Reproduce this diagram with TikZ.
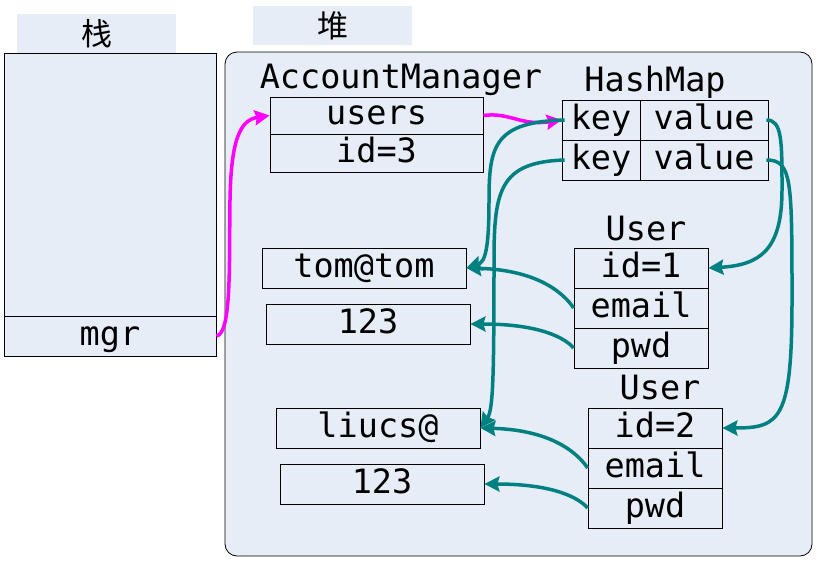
\documentclass[tikz,border=0pt]{standalone}
\usepackage{fontspec}
\setmonofont{DejaVu Sans Mono}
\newfontfamily\cjk{Noto Sans CJK SC}
\usetikzlibrary{arrows.meta}
\definecolor{bgc}{RGB}{230,237,247}
\definecolor{tealc}{RGB}{0,128,128}
\definecolor{magc}{RGB}{255,0,255}
\tikzset{
  cell/.style={draw, line width=0.8pt, fill=bgc, inner sep=0pt, minimum height=40pt, text height=24pt, text depth=6pt, font=\ttfamily\fontsize{33.5}{33.5}\selectfont},
  ttl/.style={inner sep=0pt, text height=24pt, text depth=6pt, font=\ttfamily\fontsize{33.5}{33.5}\selectfont},
  cjklbl/.style={fill=bgc, inner sep=0pt, minimum width=159pt, minimum height=39pt, font=\cjk\fontsize{31}{31}\selectfont},
  tarr/.style={draw=tealc, line width=3.5pt, -{Stealth[length=15pt,width=15pt,inset=2pt]}},
  marr/.style={draw=magc, line width=3.5pt, -{Stealth[length=15pt,width=15pt,inset=2pt]}}
}
\begin{document}
\begin{tikzpicture}[x=1pt,y=-1pt]
\useasboundingbox (0,0) rectangle (821,568);
% labels
\node[cjklbl] (stacklbl) at (96.5,33.5) {栈};
\node[cjklbl] (heaplbl) at (332.5,25.5) {堆};
% stack
\node[draw, line width=0.8pt, fill=bgc, minimum width=212pt, minimum height=303pt, inner sep=0pt] (stack) at (110,204.5) {};
\node[cell, minimum width=212pt] (mgr) at (110,336) {mgr};
% heap
\node[draw, line width=0.8pt, fill=bgc, rounded corners=12pt, minimum width=587pt, minimum height=504pt, inner sep=0pt] (heap) at (518.5,304) {};
% AccountManager
\node[ttl] (amt) at (401,79) {AccountManager};
\node[cell, minimum width=213pt, minimum height=37pt] (users) at (376.5,115.5) {users};
\node[cell, minimum width=213pt, minimum height=38pt] (id3) at (376.5,153) {id=3};
% HashMap
\node[ttl] (hmt) at (655,82) {HashMap};
\node[cell, minimum width=78pt] (key1) at (601,120) {key};
\node[cell, minimum width=128pt] (val1) at (704,120) {value};
\node[cell, minimum width=78pt] (key2) at (601,160) {key};
\node[cell, minimum width=128pt] (val2) at (704,160) {value};
% User 1
\node[ttl] (u1t) at (646,231) {User};
\node[cell, minimum width=134pt] (u1id) at (641,268) {id=1};
\node[cell, minimum width=134pt] (u1em) at (641,308) {email};
\node[cell, minimum width=134pt] (u1pw) at (641,348) {pwd};
% User 2
\node[ttl] (u2t) at (660,390) {User};
\node[cell, minimum width=134pt] (u2id) at (655,428) {id=2};
\node[cell, minimum width=134pt] (u2em) at (655,468) {email};
\node[cell, minimum width=134pt] (u2pw) at (655,508) {pwd};
% strings
\node[cell, minimum width=204pt] (tom) at (364,268) {tom@tom};
\node[cell, minimum width=204pt] (p1) at (368,324) {123};
\node[cell, minimum width=204pt] (liu) at (378,428) {liucs@};
\node[cell, minimum width=204pt] (p2) at (382,484) {123};
% magenta arrows
\draw[marr] (mgr.east) .. controls (232,334) and (229,260) .. (230,200) .. controls (231,140) and (240,120) .. (users.west);
\draw[marr] (users.east) .. controls (510,112) and (520,126) .. (key1.west);
% teal arrows from hashmap
\draw[tarr] ([xshift=3pt]key1.west) .. controls (495,122) and (489,145) .. (489,200) .. controls (489,250) and (485,262) .. (tom.east);
\draw[tarr] ([xshift=3pt]key2.west) .. controls (500,162) and (494,190) .. (494,260) .. controls (494,380) and (493,410) .. (liu.east);
\draw[tarr] ([xshift=-2pt]val1.east) .. controls (782,120) and (782,140) .. (782,190) .. controls (782,250) and (760,265) .. (u1id.east);
\draw[tarr] ([xshift=-2pt]val2.east) .. controls (792,160) and (792,180) .. (792,300) .. controls (792,420) and (780,428) .. (u2id.east);
% teal arrows from users
\draw[tarr] (u1em.west) .. controls (565,295) and (540,270) .. (tom.east);
\draw[tarr] (u1pw.west) .. controls (565,338) and (540,324) .. (p1.east);
\draw[tarr] (u2em.west) .. controls (579,455) and (554,430) .. (liu.east);
\draw[tarr] (u2pw.west) .. controls (579,498) and (554,484) .. (p2.east);
\end{tikzpicture}
\end{document}
